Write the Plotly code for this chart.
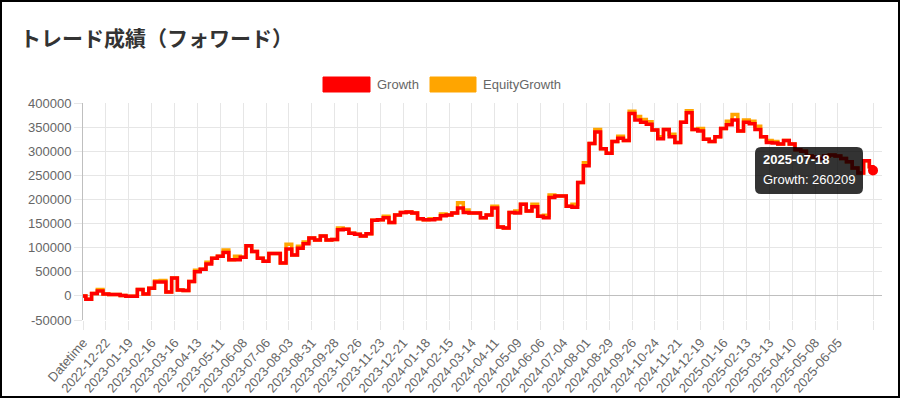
import pandas as pd
import plotly.graph_objects as go

# ---------------- data ----------------
start_date = "2022-11-24"   # position of the "Datetime" category
last_date = "2025-07-18"
last_growth = 260209

growth = [
    0, -7000, 5000, 10000, 4000, 3000, 3000, 1000, -1000, -1000,
    13000, 4000, 16000, 29000, 29000, 8000, 37000, 12000, 11000, 30000,
    50000, 55000, 66000, 78000, 82000, 90000, 75000, 75000, 80000, 104000,
    92000, 78000, 72000, 88000, 88000, 68000, 97000, 85000, 99000, 108000,
    120000, 116000, 124000, 116000, 117000, 137000, 138000, 130000, 128000, 124000,
    129000, 157000, 158000, 162000, 152000, 168000, 173000, 174000, 172000, 160000,
    158000, 158000, 160000, 166000, 168000, 172000, 182000, 173000, 172000, 172000,
    162000, 168000, 182000, 143000, 141000, 173000, 172000, 190000, 176000, 185000,
    165000, 162000, 204000, 207000, 207000, 186000, 184000, 235000, 270000, 316000,
    340000, 305000, 296000, 320000, 327000, 322000, 378000, 365000, 360000, 356000,
    344000, 326000, 345000, 330000, 318000, 360000, 380000, 345000, 342000, 325000,
    320000, 330000, 347000, 355000, 365000, 342000, 360000, 357000, 345000, 330000,
    318000, 317000, 315000, 322000, 315000, 303000, 300000, 290000, 288000, 285000,
    290000, 292000, 290000, 285000, 278000, 265000, 255000, 280000, 268000,
]

equity_growth = [
    0, -7000, 5000, 13000, 4000, 3000, 3000, 1000, -1000, -1000,
    13000, 4000, 16000, 31000, 32000, 8000, 37000, 12000, 11000, 30000,
    53000, 55000, 70000, 78000, 82000, 95000, 75000, 82000, 80000, 104000,
    92000, 78000, 72000, 88000, 88000, 68000, 107000, 85000, 103000, 112000,
    120000, 116000, 124000, 116000, 117000, 141000, 138000, 130000, 128000, 124000,
    129000, 157000, 158000, 165000, 152000, 168000, 173000, 174000, 172000, 160000,
    158000, 160000, 160000, 170000, 168000, 172000, 193000, 178000, 172000, 172000,
    162000, 168000, 186000, 143000, 141000, 173000, 176000, 190000, 176000, 190000,
    165000, 167000, 209000, 207000, 207000, 186000, 190000, 235000, 276000, 316000,
    345000, 305000, 296000, 320000, 331000, 322000, 383000, 372000, 366000, 361000,
    344000, 330000, 345000, 335000, 318000, 360000, 384000, 345000, 347000, 325000,
    320000, 330000, 347000, 362000, 376000, 342000, 365000, 362000, 352000, 330000,
    322000, 320000, 315000, 322000, 315000, 303000, 300000, 290000, 288000, 285000,
    290000, 292000, 290000, 285000, 278000, 265000, 255000, 280000, 268000,
]

x_tick_labels = [
    "Datetime", "2022-12-22", "2023-01-19", "2023-02-16", "2023-03-16", "2023-04-13",
    "2023-05-11", "2023-06-08", "2023-07-06", "2023-08-03", "2023-08-31", "2023-09-28",
    "2023-10-26", "2023-11-23", "2023-12-21", "2024-01-18", "2024-02-15", "2024-03-14",
    "2024-04-11", "2024-05-09", "2024-06-06", "2024-07-04", "2024-08-01", "2024-08-29",
    "2024-09-26", "2024-10-24", "2024-11-21", "2024-12-19", "2025-01-16", "2025-02-13",
    "2025-03-13", "2025-04-10", "2025-05-08", "2025-06-05",
]
y_tick_values = [-50000, 0, 50000, 100000, 150000, 200000, 250000, 300000, 350000, 400000]
y_tick_labels = ["-50000", "0", "50000", "100000", "150000", "200000", "250000",
                 "300000", "350000", "400000"]

# weekly sample dates + the final day
dates = list(pd.date_range(start_date, periods=len(growth), freq="7D").strftime("%Y-%m-%d"))
x_vals = dates + [last_date]
g_vals = growth + [last_growth]
e_vals = equity_growth + [last_growth]

tick_positions = [start_date] + x_tick_labels[1:] + [last_date]
tick_texts = x_tick_labels + [""]

# ---------------- layout helpers ----------------
W, H = 901, 399
L, R, T, B = 83, 19, 103, 79
PW, PH = W - L - R, H - T - B


def px(x):
    return (x - L) / PW


def py(y):
    return (T + PH - y) / PH


FONT = "Liberation Sans, Arial, Helvetica, sans-serif"
RED = "#ff0000"
ORANGE = "#ffa500"
GRID = "#e6e6e6"

fig = go.Figure()
fig.add_trace(go.Scatter(x=x_vals, y=e_vals, mode="lines", name="EquityGrowth",
                         line=dict(color=ORANGE, width=3.5, shape="hvh"), showlegend=False,
                         hoverinfo="skip"))
fig.add_trace(go.Scatter(x=x_vals, y=g_vals, mode="lines", name="Growth",
                         line=dict(color=RED, width=3.5, shape="hvh"), showlegend=False,
                         hoverinfo="skip"))
fig.add_trace(go.Scatter(x=[last_date], y=[last_growth], mode="markers",
                         marker=dict(color=RED, size=10), showlegend=False, hoverinfo="skip",
                         cliponaxis=False))

shapes = []
annotations = []

# outer frame
shapes.append(dict(type="rect", xref="paper", yref="paper",
                   x0=px(1), x1=px(899), y0=py(397), y1=py(1),
                   line=dict(color="#000000", width=2), fillcolor="rgba(0,0,0,0)", layer="above"))

# title
annotations.append(dict(text="<b>トレード成績（フォワード）</b>", xref="paper", yref="paper",
                        x=px(18), y=py(37), xanchor="left", yanchor="middle", showarrow=False,
                        font=dict(family="Noto Sans CJK JP, sans-serif", size=21, color="#333333")))

# legend (Chart.js style boxes)
legend_items = [("Growth", RED, 323, 370), ("EquityGrowth", ORANGE, 430, 476)]
for name, col, x0, x1 in legend_items:
    shapes.append(dict(type="rect", xref="paper", yref="paper",
                       x0=px(x0), x1=px(x1), y0=py(92), y1=py(77),
                       line=dict(color=col, width=1), fillcolor=col))
    annotations.append(dict(text=name, xref="paper", yref="paper", x=px(x1 + 5), y=py(85),
                            xanchor="left", yanchor="middle", showarrow=False,
                            font=dict(family=FONT, size=13, color="#666666")))

# tooltip box with rounded corners
tx0, tx1, ty0, ty1, rad = 755, 863, 147, 194, 6
rx, ry = rad / PW, rad / PH
X0, X1, Y0, Y1 = px(tx0), px(tx1), py(ty1), py(ty0)
path = (f"M {X0+rx},{Y1} L {X1-rx},{Y1} Q {X1},{Y1} {X1},{Y1-ry} "
        f"L {X1},{Y0+ry} Q {X1},{Y0} {X1-rx},{Y0} L {X0+rx},{Y0} Q {X0},{Y0} {X0},{Y0+ry} "
        f"L {X0},{Y1-ry} Q {X0},{Y1} {X0+rx},{Y1} Z")
shapes.append(dict(type="path", path=path, xref="paper", yref="paper",
                   fillcolor="rgba(0,0,0,0.8)", line=dict(width=0), layer="above"))
annotations.append(dict(text=f"<b>{last_date}</b>", xref="paper", yref="paper",
                        x=px(761), y=py(159), xanchor="left", yanchor="middle", showarrow=False,
                        font=dict(family=FONT, size=13, color="#ffffff")))
annotations.append(dict(text=f"Growth: {last_growth}", xref="paper", yref="paper",
                        x=px(761), y=py(179), xanchor="left", yanchor="middle", showarrow=False,
                        font=dict(family=FONT, size=13, color="#ffffff")))

fig.update_layout(
    width=W, height=H,
    margin=dict(l=L, r=R, t=T, b=B, autoexpand=False),
    paper_bgcolor="#ffffff", plot_bgcolor="#ffffff",
    shapes=shapes, annotations=annotations,
    showlegend=False,
    font=dict(family=FONT, size=13, color="#666666"),
    xaxis=dict(type="date", range=[start_date, "2025-07-29"],
               tickmode="array", tickvals=tick_positions, ticktext=tick_texts,
               tickangle=-49, ticks="outside", ticklen=9, tickcolor=GRID,
               showgrid=True, gridcolor=GRID, gridwidth=1,
               showline=False, zeroline=False, automargin=False,
               tickfont=dict(family=FONT, size=13, color="#666666")),
    yaxis=dict(range=[-50000, 400000], tickmode="array", tickvals=y_tick_values,
               ticktext=y_tick_labels, ticks="outside", ticklen=8, tickcolor=GRID,
               showgrid=True, gridcolor=GRID, gridwidth=1,
               zeroline=True, zerolinecolor="#bfbfbf", zerolinewidth=1,
               showline=True, linecolor="#bfbfbf", linewidth=1, automargin=False,
               tickfont=dict(family=FONT, size=13, color="#666666")),
)

fig.write_html("out.html",
               config={"displayModeBar": False},
               post_script="document.body.style.margin='0px';document.body.style.overflow='hidden';")
